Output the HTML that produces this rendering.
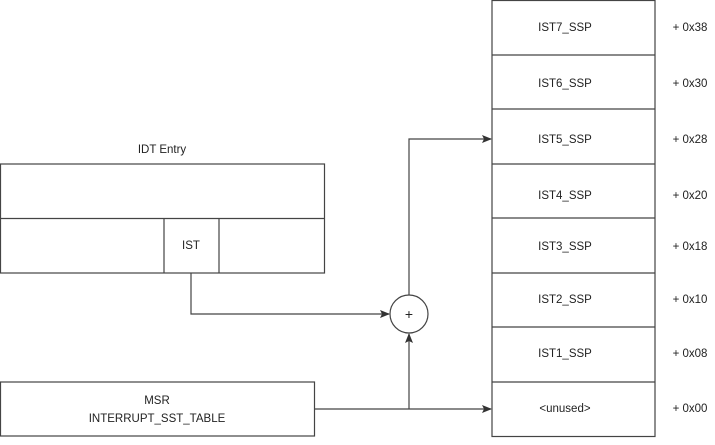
<!DOCTYPE html>
<html><head><style>
body{margin:0;background:#fff}
svg text{font-family:"Liberation Sans",sans-serif;font-size:11.5px;fill:#222}
</style></head><body>
<svg width="715" height="440" viewBox="0 0 715 440">
<defs><marker id="a" markerWidth="10" markerHeight="8" refX="9" refY="4" orient="auto" markerUnits="userSpaceOnUse"><path d="M0,0 L10,4 L0,8 L2,4z" fill="#333"/></marker></defs>
<g fill="none" stroke="#444" stroke-width="1.2">
<rect x="492" y="0.5" width="163" height="436"/>
<line x1="492" y1="55" x2="655" y2="55"/><line x1="492" y1="109" x2="655" y2="109"/>
<line x1="492" y1="164" x2="655" y2="164"/><line x1="492" y1="218" x2="655" y2="218"/>
<line x1="492" y1="273" x2="655" y2="273"/><line x1="492" y1="327" x2="655" y2="327"/>
<line x1="492" y1="382" x2="655" y2="382"/>
<rect x="0.5" y="164" width="324" height="109"/>
<line x1="0" y1="218.5" x2="324" y2="218.5"/>
<line x1="164" y1="218.5" x2="164" y2="273"/><line x1="219" y1="218.5" x2="219" y2="273"/>
<rect x="0.5" y="382" width="314" height="54"/>
<circle cx="409" cy="314" r="19"/>
<polyline points="191,273 191,314 389,314" marker-end="url(#a)"/>
<line x1="314" y1="409" x2="491" y2="409" marker-end="url(#a)"/>
<line x1="409" y1="409" x2="409" y2="334" marker-end="url(#a)"/>
<polyline points="409,295 409,139 491,139" marker-end="url(#a)"/>
</g>
<g text-anchor="middle">
<text x="565" y="31">IST7_SSP</text><text x="565" y="87">IST6_SSP</text>
<text x="565" y="143">IST5_SSP</text><text x="565" y="199">IST4_SSP</text>
<text x="565" y="250">IST3_SSP</text><text x="565" y="303">IST2_SSP</text>
<text x="565" y="357">IST1_SSP</text><text x="565" y="412">&lt;unused&gt;</text>
<text x="690" y="31">+ 0x38</text><text x="690" y="87">+ 0x30</text>
<text x="690" y="143">+ 0x28</text><text x="690" y="199">+ 0x20</text>
<text x="690" y="250">+ 0x18</text><text x="690" y="303">+ 0x10</text>
<text x="690" y="357">+ 0x08</text><text x="690" y="412">+ 0x00</text>
<text x="162" y="153">IDT Entry</text>
<text x="191" y="249">IST</text>
<text x="157" y="404">MSR</text>
<text x="157" y="422">INTERRUPT_SST_TABLE</text>
<text x="409" y="319" style="font-size:14px">+</text>
</g>
</svg>
</body></html>
